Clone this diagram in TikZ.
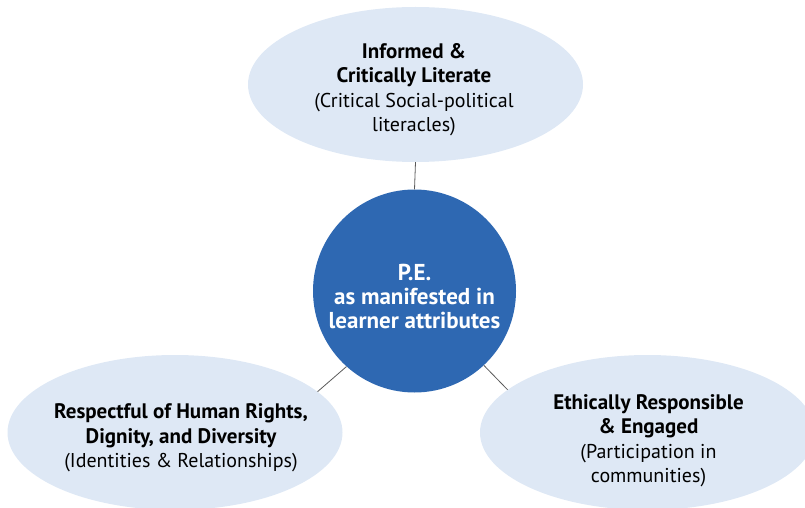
\documentclass[tikz,border=0pt]{standalone}
\usepackage{fontspec}
\setmainfont{PT Sans}
\usetikzlibrary{shapes.geometric}
\definecolor{ellfill}{RGB}{222,232,245}
\definecolor{circfill}{RGB}{46,104,178}
\definecolor{linkgray}{RGB}{90,90,90}
\newcommand{\bl}[1]{{\fontsize{21}{24.5}\selectfont\bfseries #1}}
\begin{document}
\begin{tikzpicture}[x=1pt,y=1pt,
  outer/.style={ellipse,fill=ellfill,draw=none,minimum width=335pt,minimum height=155pt,inner sep=0pt},
  hub/.style={circle,fill=circfill,draw=none,minimum size=203pt,inner sep=0pt},
  txt/.style={align=center,font=\fontsize{20}{24.5}\selectfont,text=black},
  ctx/.style={align=center,font=\fontsize{23}{24}\selectfont\bfseries,text=white},
  link/.style={draw=linkgray,line width=0.8pt}]
\useasboundingbox (0,0) rectangle (805,507);
\node[outer] (top) at (415.5,422.5) {};
\node[outer] (lft) at (175,74.5) {};
\node[outer] (rgt) at (647.5,74.5) {};
\node[hub] (c) at (414.5,216) {};
\node[txt] (toptxt) at (414,417.5) {\bl{Informed \&}\\\bl{Critically Literate}\\(Critical Social-political\\literacles)};
\node[txt] (lfttxt) at (181,69) {\bl{Respectful of Human Rights,}\\\bl{Dignity, and Diversity}\\(Identities \& Relationships)};
\node[txt] (rgttxt) at (648.5,66.5) {\bl{Ethically Responsible}\\\bl{\& Engaged}\\(Participation in\\communities)};
\node[ctx] (ctxt) at (414.5,211) {P.E.\\as manifested in\\learner attributes};
\draw[link] (top.south) -- (c.north);
\draw[link] (c.228) -- (lft.16);
\draw[link] (c.313) -- (rgt.163);
\end{tikzpicture}
\end{document}
